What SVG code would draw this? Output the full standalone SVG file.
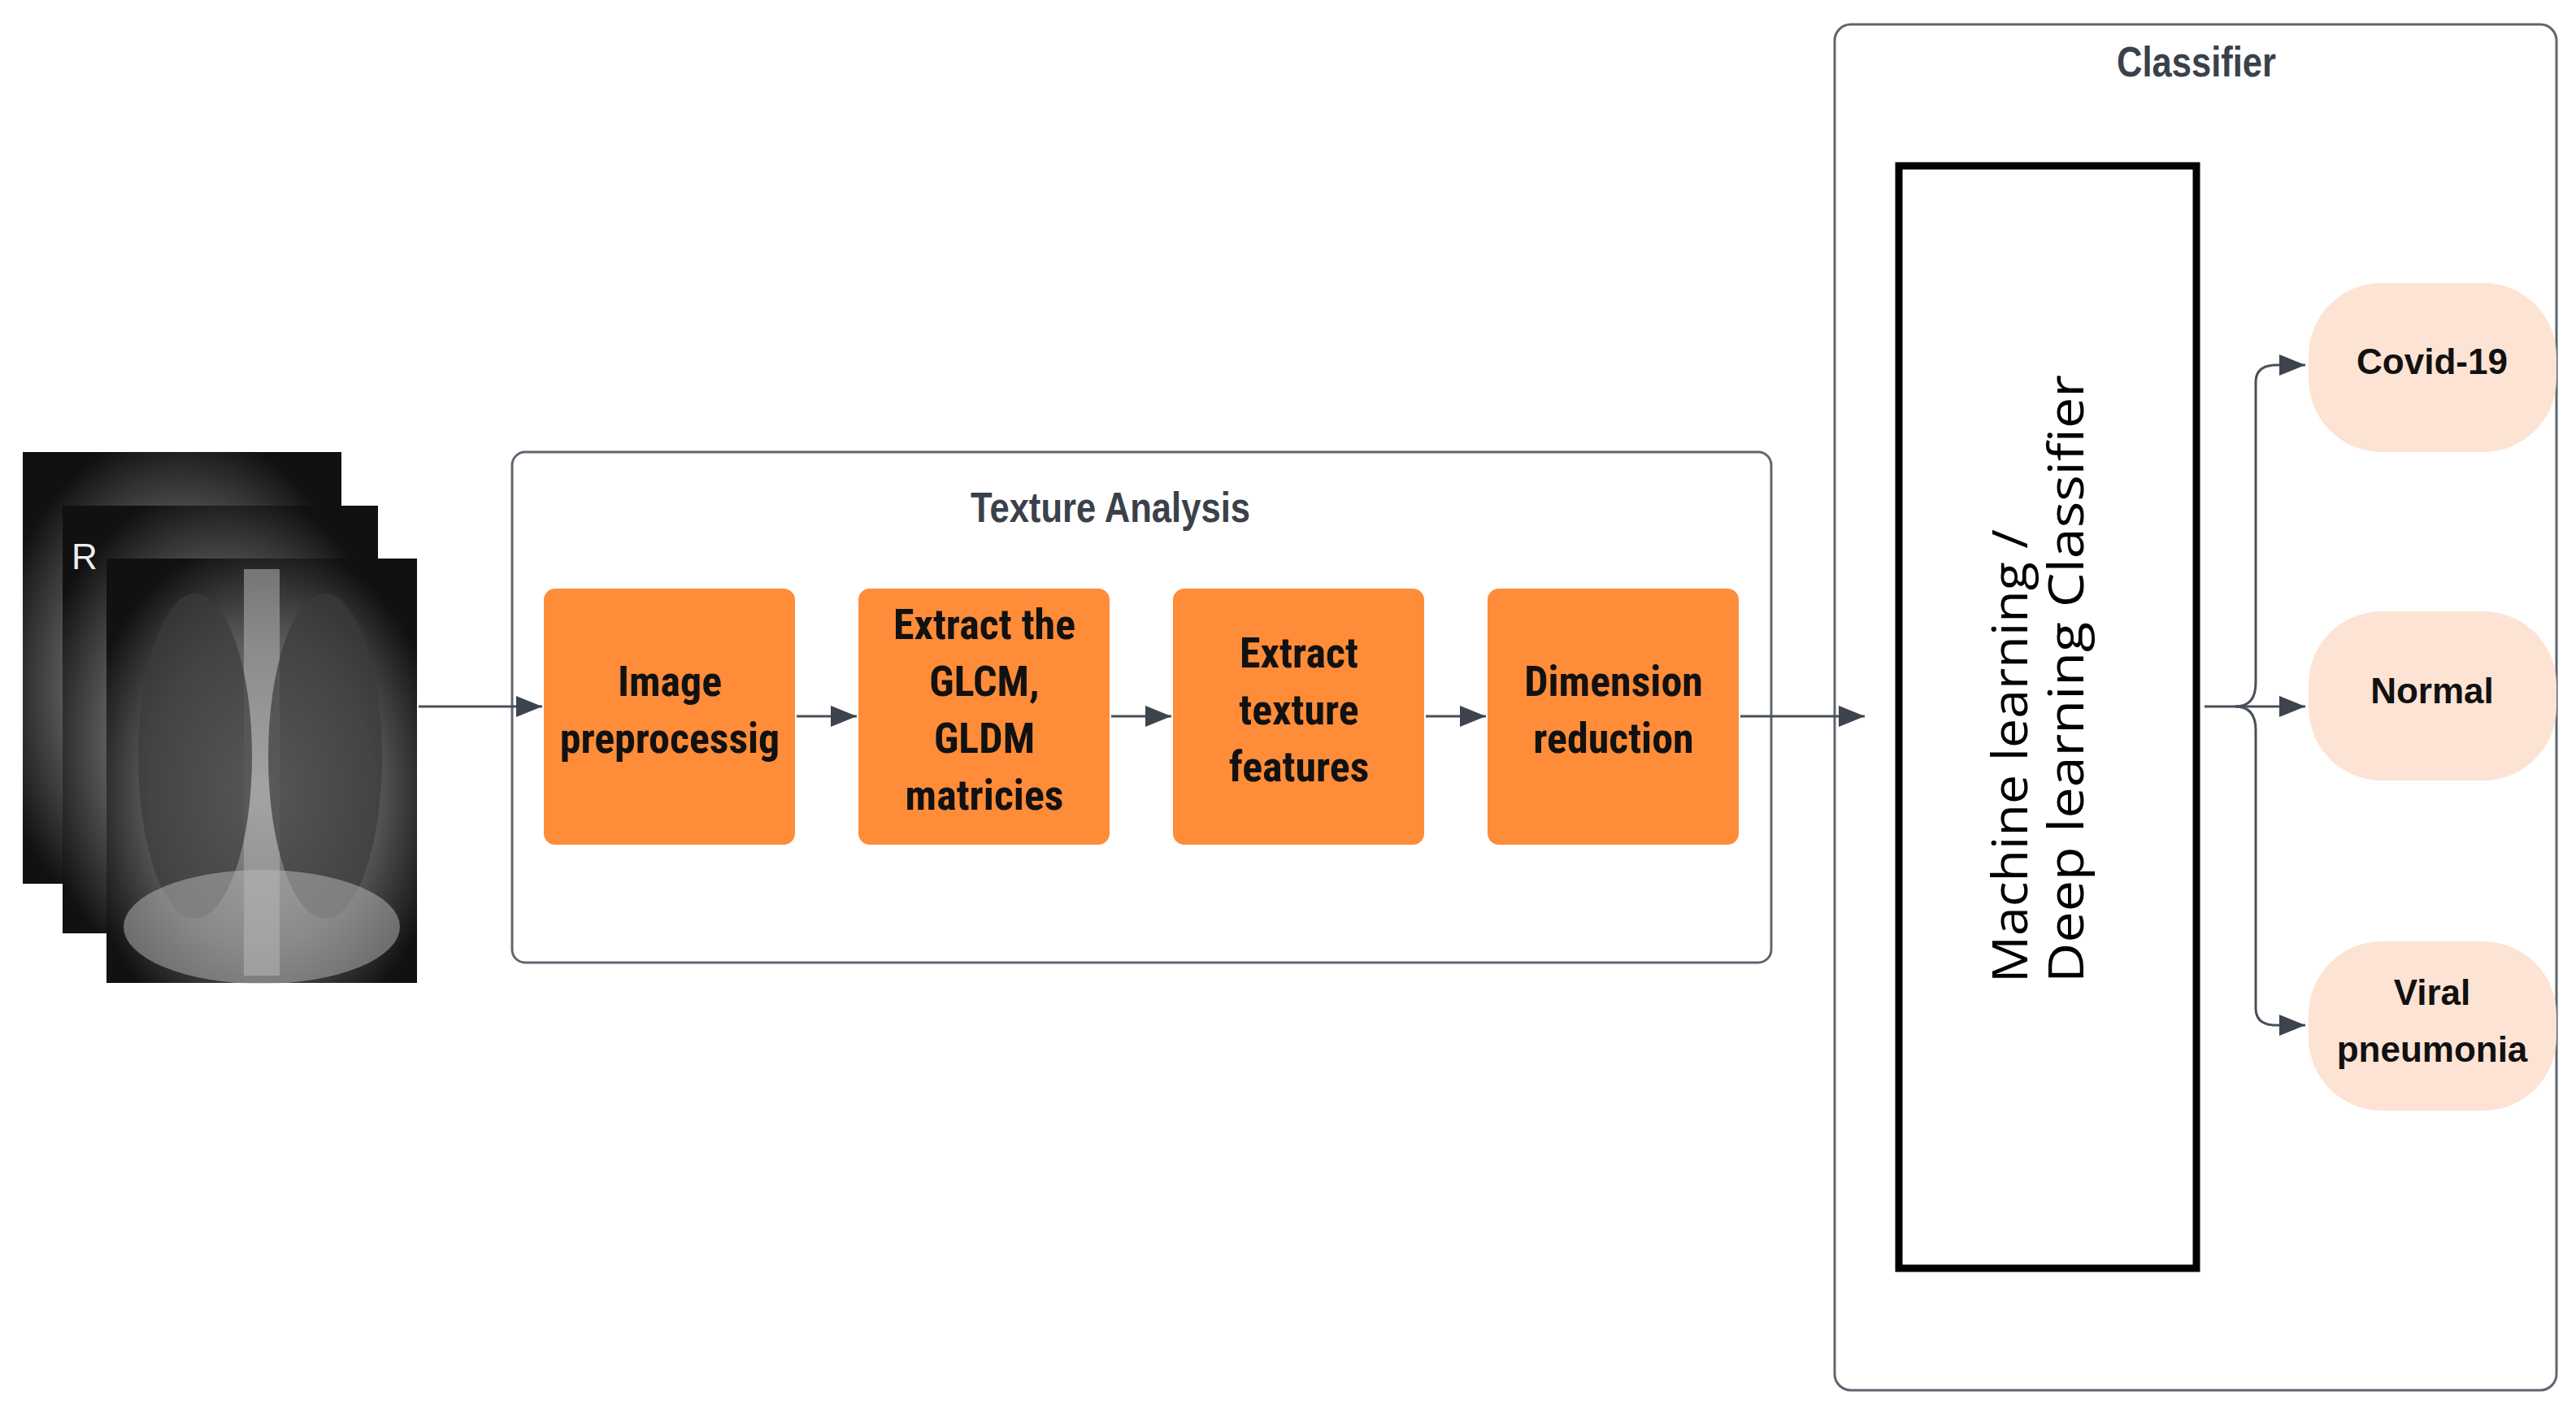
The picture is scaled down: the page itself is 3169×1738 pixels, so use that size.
<svg xmlns="http://www.w3.org/2000/svg" width="3169" height="1738" viewBox="0 0 3169 1738">
<style>
.grp{fill:#fff;stroke:#5f6670;stroke-width:3}
.step{fill:#ff8c38}
.st{font-family:"Liberation Sans Narrow","Roboto Condensed","Liberation Sans",sans-serif;font-weight:bold;font-size:52px;fill:#111;text-anchor:middle}
.ttl{font-family:"Liberation Sans Narrow","Liberation Sans",sans-serif;font-weight:bold;font-size:52px;fill:#3a414a;text-anchor:middle}
.pill{fill:#fde3d3}
.pt{font-family:"Liberation Sans",Arial,sans-serif;font-weight:bold;font-size:44px;fill:#111;text-anchor:middle}
.ln{fill:none;stroke:#4a505a;stroke-width:3}
</style>
<defs>
<marker id="a" viewBox="0 0 10 10" refX="10" refY="5" markerWidth="32" markerHeight="26" markerUnits="userSpaceOnUse" orient="auto" preserveAspectRatio="none"><path d="M0,0 L10,5 L0,10 z" fill="#3d444e"/></marker>
<radialGradient id="x" cx="0.5" cy="0.55" r="0.6"><stop offset="0" stop-color="#9a9a9a"/><stop offset="0.6" stop-color="#5a5a5a"/><stop offset="1" stop-color="#111"/></radialGradient>
</defs>
<g id="xrays">
<rect x="28" y="556" width="392" height="531" fill="url(#x)"/>
<rect x="77" y="622" width="388" height="526" fill="url(#x)"/>
<text x="88" y="700" font-family="Liberation Sans,sans-serif" font-size="44" fill="#eee">R</text>
<rect x="131" y="687" width="382" height="522" fill="url(#x)"/>
<rect x="300" y="700" width="44" height="500" fill="#aaa" opacity="0.6"/>
<ellipse cx="240" cy="930" rx="70" ry="200" fill="#3a3a3a" opacity="0.7"/>
<ellipse cx="400" cy="930" rx="70" ry="200" fill="#3a3a3a" opacity="0.7"/>
<ellipse cx="322" cy="1140" rx="170" ry="70" fill="#bbb" opacity="0.5"/>
</g>
<g id="texture-analysis">
<rect class="grp" x="630" y="556" width="1549" height="628" rx="16"/>
<text class="ttl" x="1366" y="642" textLength="344" lengthAdjust="spacingAndGlyphs">Texture Analysis</text>
</g>
<g id="step1"><rect class="step" x="669" y="724" width="309" height="315" rx="14"/>
<text class="st" x="824" y="856">Image</text><text class="st" x="824" y="926">preprocessig</text></g>
<g id="step2"><rect class="step" x="1056" y="724" width="309" height="315" rx="14"/>
<text class="st" x="1211" y="786">Extract the</text><text class="st" x="1211" y="856">GLCM,</text><text class="st" x="1211" y="926">GLDM</text><text class="st" x="1211" y="996">matricies</text></g>
<g id="step3"><rect class="step" x="1443" y="724" width="309" height="315" rx="14"/>
<text class="st" x="1598" y="821">Extract</text><text class="st" x="1598" y="891">texture</text><text class="st" x="1598" y="961">features</text></g>
<g id="step4"><rect class="step" x="1830" y="724" width="309" height="315" rx="14"/>
<text class="st" x="1985" y="856">Dimension</text><text class="st" x="1985" y="926">reduction</text></g>
<g id="classifier">
<rect class="grp" x="2257" y="30" width="888" height="1680" rx="20"/>
<text class="ttl" x="2702" y="94" textLength="196" lengthAdjust="spacingAndGlyphs">Classifier</text>
</g>
<g id="ml">
<rect x="2336" y="204" width="366" height="1356" fill="#fff" stroke="#000" stroke-width="9"/>
<g font-family="'Open Sans','Noto Sans',sans-serif" font-size="60" fill="#000">
<text transform="translate(2494,1209) rotate(-90)" textLength="558" lengthAdjust="spacingAndGlyphs">Machine learning /</text>
<text transform="translate(2563,1209) rotate(-90)" textLength="748" lengthAdjust="spacingAndGlyphs">Deep learning Classifier</text>
</g>
</g>
<g id="covid"><rect class="pill" x="2840" y="348" width="305" height="208" rx="90"/><text class="pt" x="2992" y="460">Covid-19</text></g>
<g id="normal"><rect class="pill" x="2840" y="752" width="305" height="208" rx="90"/><text class="pt" x="2992" y="865">Normal</text></g>
<g id="viral"><rect class="pill" x="2840" y="1158" width="305" height="208" rx="90"/><text class="pt" x="2992" y="1236">Viral</text><text class="pt" x="2992" y="1306">pneumonia</text></g>
<g id="connectors">
<path class="ln" d="M515,869 H667" marker-end="url(#a)"/>
<path class="ln" d="M980,881 H1054" marker-end="url(#a)"/>
<path class="ln" d="M1367,881 H1441" marker-end="url(#a)"/>
<path class="ln" d="M1754,881 H1828" marker-end="url(#a)"/>
<path class="ln" d="M2141,881 H2294" marker-end="url(#a)"/>
<path class="ln" d="M2712,869 H2836" marker-end="url(#a)"/>
<path class="ln" d="M2750,869 Q2775,869 2775,840 V470 Q2775,449 2800,449 H2836" marker-end="url(#a)"/>
<path class="ln" d="M2750,869 Q2775,869 2775,898 V1240 Q2775,1261 2800,1261 H2836" marker-end="url(#a)"/>
</g>
</svg>
